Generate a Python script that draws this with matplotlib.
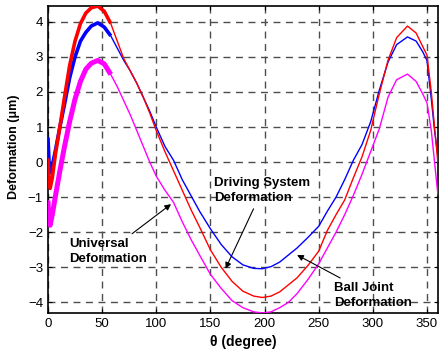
import numpy as np
import matplotlib
matplotlib.use("Agg")
import matplotlib.pyplot as plt

plt.rcParams['font.family'] = ['Liberation Sans', 'DejaVu Sans']

# angle samples (degree)
theta = [0, 1, 2, 4, 7, 11, 15, 20, 25, 30, 35, 40, 46, 52, 58, 64, 70, 76, 82, 88,
         94, 100, 108, 116, 124, 132, 140, 150, 160, 170, 180, 190, 198, 206, 214,
         222, 230, 240, 250, 258, 266, 274, 282, 290, 298, 306, 314, 322, 332, 340,
         346, 350, 354, 357, 360]

# ball joint deformation (blue)
ball_joint = [0.7, 0.0, -0.3, -0.1, 0.35, 1.0, 1.6, 2.4, 3.0, 3.45, 3.7, 3.88, 3.97, 3.85,
              3.6, 3.25, 2.9, 2.6, 2.25, 1.85, 1.45, 1.0, 0.45, 0.05, -0.5, -0.95, -1.4,
              -1.9, -2.35, -2.7, -2.93, -3.03, -3.04, -2.98, -2.85, -2.65, -2.45, -2.15,
              -1.83, -1.4, -1.0, -0.5, 0.05, 0.5, 1.15, 2.05, 2.85, 3.35, 3.57, 3.45,
              3.15, 2.9, 1.8, 0.9, 0.2]

# driving system deformation (red)
driving = [0.1, -0.5, -0.75, -0.45, 0.25, 1.0, 1.8, 2.75, 3.45, 3.95, 4.25, 4.4, 4.45, 4.3,
           3.95, 3.45, 2.95, 2.6, 2.25, 1.85, 1.4, 0.9, 0.3, -0.25, -0.8, -1.35, -1.85,
           -2.5, -3.0, -3.4, -3.68, -3.82, -3.86, -3.82, -3.7, -3.5, -3.3, -2.95, -2.54,
           -1.95, -1.5, -1.08, -0.45, 0.15, 0.9, 1.95, 2.9, 3.55, 3.88, 3.68, 3.3, 3.05,
           2.0, 1.0, 0.0]

# universal deformation (magenta)
universal = [-1.1, -1.7, -1.8, -1.5, -0.95, -0.25, 0.4, 1.15, 1.8, 2.3, 2.65, 2.82, 2.9, 2.8,
             2.5, 2.15, 1.75, 1.35, 0.9, 0.45, 0.0, -0.4, -0.8, -1.15, -1.7, -2.2, -2.65,
             -3.2, -3.6, -3.95, -4.15, -4.27, -4.3, -4.27, -4.15, -4.0, -3.75, -3.35, -2.9,
             -2.45, -2.0, -1.5, -0.95, -0.35, 0.3, 0.95, 1.85, 2.35, 2.51, 2.3, 1.95, 1.69,
             0.9, 0.0, -0.9]

xticks = [0, 50, 100, 150, 200, 250, 300, 350]
yticks = [-4, -3, -2, -1, 0, 1, 2, 3, 4]

fig = plt.figure(figsize=(4.4, 3.56), dpi=100)
ax = fig.add_axes([0.109, 0.121, 0.886, 0.863])

th = np.array(theta)
start = th <= 58
series = [(ball_joint, 'blue', 2.6), (driving, 'red', 2.6), (universal, 'magenta', 3.6)]
for vals, col, lw0 in series:
    v = np.array(vals)
    ax.plot(th, v, color=col, lw=1.0, zorder=3)
    # noisy start of the measurement looks like a thick band
    ax.plot(th[start], v[start], color=col, lw=lw0, zorder=3, solid_capstyle='butt')

ax.set_xlim(0, 360)
ax.set_ylim(-4.3, 4.46)
ax.set_xticks(xticks)
ax.set_yticks(yticks)
ax.grid(True, color='0.3', ls=(0, (5, 4)), lw=1.0)
ax.tick_params(direction='in', top=True, right=True, labelsize=9.5, length=3)
for s in ax.spines.values():
    s.set_linewidth(1.2)

ax.set_xlabel('θ (degree)', fontsize=10, fontweight='bold', labelpad=4)
ax.set_ylabel('Deformation (μm)', fontsize=9, fontweight='bold', labelpad=4)
ax.yaxis.set_label_coords(-0.072, 0.54)

akw = dict(fontsize=9.5, fontweight='bold', ha='left', va='center', linespacing=1.3,
           arrowprops=dict(arrowstyle='-|>', color='black', lw=0.8, mutation_scale=9))
ax.annotate('Universal\nDeformation', xy=(115.7, -1.15), xytext=(20, -2.55), **akw)
ax.annotate('Driving System\nDeformation', xy=(162.9, -3.11), xytext=(153.5, -0.8), **akw)
ax.annotate('Ball Joint\nDeformation', xy=(227.8, -2.61), xytext=(264, -3.8), **akw)

fig.savefig('out.png', dpi=100)
